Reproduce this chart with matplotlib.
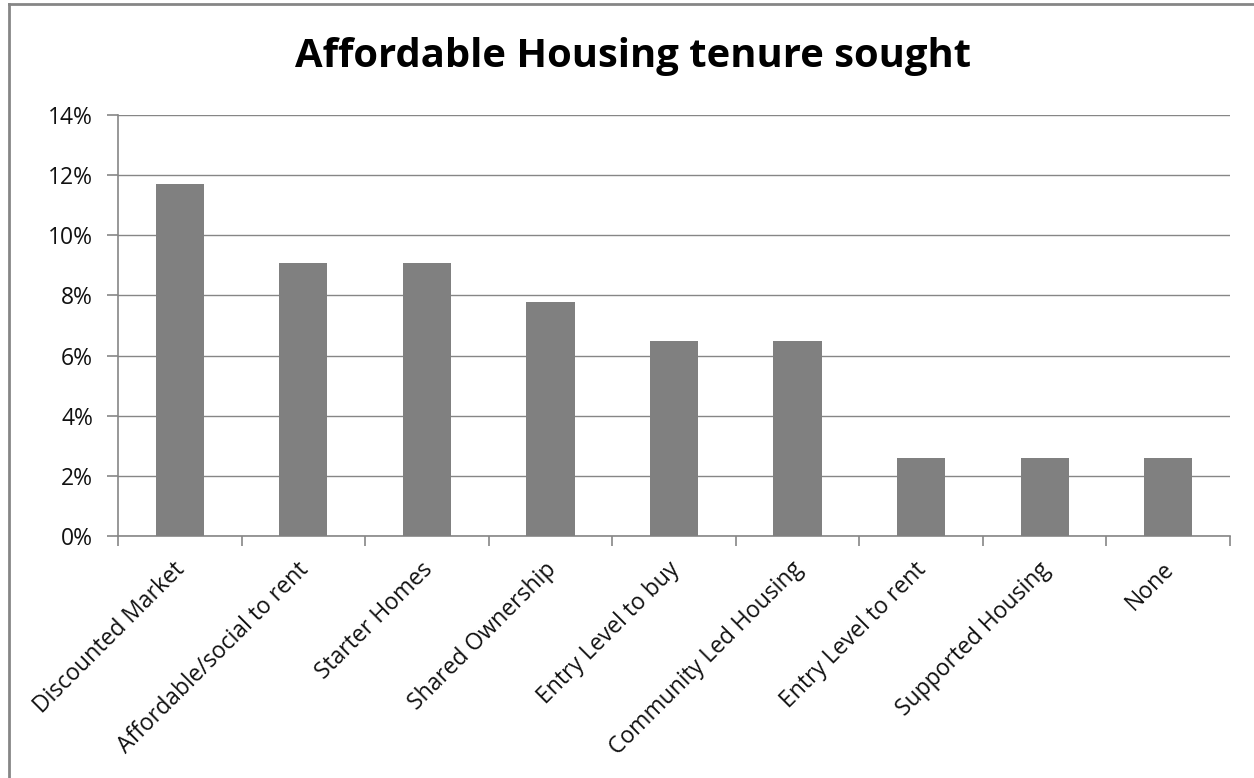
import matplotlib
matplotlib.use("Agg")
import matplotlib.pyplot as plt
from matplotlib.lines import Line2D
from matplotlib.ticker import FuncFormatter, MultipleLocator
import matplotlib.transforms as mtrans

categories = ["Discounted Market", "Affordable/social to rent", "Starter Homes",
              "Shared Ownership", "Entry Level to buy", "Community Led Housing",
              "Entry Level to rent", "Supported Housing", "None"]
values = [11.69, 9.09, 9.09, 7.79, 6.49, 6.49, 2.60, 2.60, 2.60]
title = "Affordable Housing tenure sought"

W, H = 1254, 778
fig = plt.figure(figsize=(W / 100, H / 100), dpi=100)
plt.rcParams['font.family'] = ['Open Sans', 'DejaVu Sans']

left, right, top, bottom = 118, 1230, 115, 536
ax = fig.add_axes([left / W, 1 - bottom / H, (right - left) / W, (bottom - top) / H])

gray = '#868686'
x = list(range(len(categories)))
ax.bar(x, values, width=0.39, color='#808080', zorder=3)
ax.set_xlim(-0.5, len(categories) - 0.5)
ax.set_ylim(0, 14)
ax.yaxis.set_major_locator(MultipleLocator(2))
ax.yaxis.set_major_formatter(FuncFormatter(lambda v, p: f"{v:.0f}%"))
ax.grid(axis='y', color=gray, linewidth=1, zorder=0)
for s in ['top', 'right']:
    ax.spines[s].set_visible(False)
for s in ['left', 'bottom']:
    ax.spines[s].set_color(gray)
    ax.spines[s].set_linewidth(1.2)

# x ticks at category boundaries
ax.set_xticks([i - 0.5 for i in range(len(categories) + 1)])
ax.set_xticklabels([])
ax.tick_params(axis='x', length=7, color=gray, width=1.2, direction='out')
ax.tick_params(axis='y', length=8, color=gray, width=1.2, labelsize=16.5,
               labelcolor='#111111', pad=10)

offset = mtrans.ScaledTranslation(2 / 100, -30 / 100, fig.dpi_scale_trans)
for i, c in enumerate(categories):
    ax.text(i, 0, c, rotation=45, ha='right', va='center', rotation_mode='anchor',
            fontsize=16.5, color='#111111', transform=ax.get_xaxis_transform() + offset)

fig.text(633 / W, 1 - 57 / H, title, ha='center', va='center', fontsize=28.8,
         fontweight='bold')

# outer border (left and top only visible)
fig.add_artist(Line2D([8.5 / W, 8.5 / W], [0, 1 - 3.5 / H], transform=fig.transFigure,
                      color=gray, linewidth=2))
fig.add_artist(Line2D([8.5 / W, 1], [1 - 3.5 / H, 1 - 3.5 / H], transform=fig.transFigure,
                      color=gray, linewidth=2))

fig.savefig("out.png", dpi=100)
